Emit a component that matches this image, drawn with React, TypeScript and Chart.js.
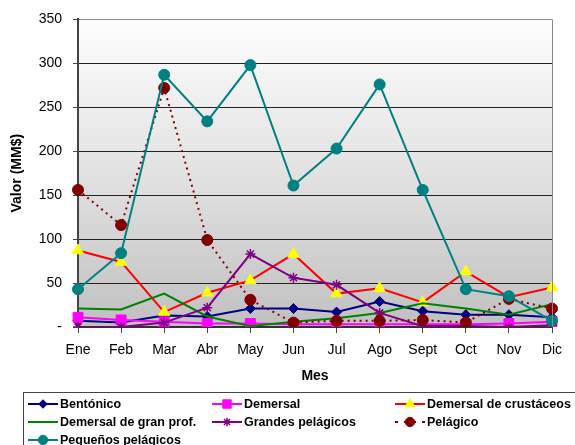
import React, { useEffect, useRef } from 'react';
import { Chart, registerables } from 'chart.js';
import { drawPoint } from 'chart.js/helpers';

Chart.register(...registerables);

const months = ['Ene', 'Feb', 'Mar', 'Abr', 'May', 'Jun', 'Jul', 'Ago', 'Sept', 'Oct', 'Nov', 'Dic'];
const yTicks = [0, 50, 100, 150, 200, 250, 300, 350];
const bentonico = [7, 5, 13, 12, 21, 21, 17, 29, 18, 14, 14, 11];
const demersal = [11, 8, 6, 4, 4, 3, 3, 3, 3, 3, 4, 6];
const crustaceos = [87, 74, 17, 39, 53, 83, 38, 44, 28, 63, 34, 45];
const granProf = [21, 20, 38, 12, 1, 6, 10, 16, 27, 21, 14, 26];
const grandesPelagicos = [0, 0, 5, 22, 83, 56, 48, 16, 1, 1, 0, 2];
const pelagico = [156, 116, 272, 99, 31, 5, 7, 7, 8, 5, 32, 21];
const pequenosPelagicos = [43, 84, 287, 234, 298, 161, 203, 276, 156, 43, 35, 7];

const FONT = 'Arial, "Liberation Sans", sans-serif';

const legendPos = [
  [28, 404], [212, 404], [395, 404],
  [28, 422], [212, 422], [395, 422],
  [28, 440],
];

const bgPlugin = {
  id: 'bgPlugin',
  beforeDraw(chart: any) {
    const { ctx, chartArea: a } = chart;
    ctx.save();
    ctx.fillStyle = '#ffffff';
    ctx.fillRect(0, 0, chart.width, chart.height);
    const g = ctx.createLinearGradient(0, a.top, 0, a.bottom);
    g.addColorStop(0, '#fdfdfd');
    g.addColorStop(0.5, '#e2e2e2');
    g.addColorStop(1, '#c0c0c0');
    ctx.fillStyle = g;
    ctx.fillRect(a.left, a.top, a.right - a.left, a.bottom - a.top);
    ctx.restore();
  },
  afterDraw(chart: any) {
    const { ctx, chartArea: a } = chart;
    ctx.save();
    ctx.strokeStyle = '#888888';
    ctx.lineWidth = 1;
    ctx.beginPath();
    ctx.moveTo(a.right + 0.5, a.top);
    ctx.lineTo(a.right + 0.5, a.bottom);
    ctx.stroke();

    // legend box
    ctx.strokeStyle = '#444444';
    ctx.lineWidth = 1;
    ctx.strokeRect(23.5, 392.5, 600, 100);

    chart.data.datasets.forEach((ds: any, i: number) => {
      const [x, y] = legendPos[i];
      ctx.save();
      ctx.strokeStyle = ds.borderColor;
      ctx.lineWidth = ds.borderWidth;
      ctx.setLineDash(ds.borderDash ? [3, 6] : []);
      ctx.beginPath();
      ctx.moveTo(x, y);
      ctx.lineTo(x + 30, y);
      ctx.stroke();
      ctx.restore();
      if (ds.pointRadius > 0) {
        ctx.save();
        ctx.fillStyle = ds.pointBackgroundColor;
        ctx.strokeStyle = ds.pointBorderColor;
        ctx.lineWidth = ds.pointBorderWidth;
        drawPoint(ctx, { pointStyle: ds.pointStyle, radius: ds.pointRadius * 0.85, rotation: 0, borderWidth: ds.pointBorderWidth }, x + 15, y);
        ctx.restore();
      }
      ctx.fillStyle = '#000000';
      ctx.font = `bold 12.5px ${FONT}`;
      ctx.textBaseline = 'middle';
      ctx.textAlign = 'left';
      ctx.fillText(ds.label, x + 32, y + 1);
    });
    ctx.restore();
  },
};

export default function App() {
  const ref = useRef<HTMLCanvasElement>(null);
  useEffect(() => {
    document.body.style.margin = '0';
    const mk = (label: string, data: number[], color: string, style: any, radius: number, fill: string, extra: any = {}) => ({
      label,
      data,
      borderColor: color,
      backgroundColor: fill,
      borderWidth: 2,
      pointStyle: style,
      pointRadius: radius,
      pointBackgroundColor: fill,
      pointBorderColor: style === 'star' ? color : fill,
      pointBorderWidth: style === 'star' ? 1.5 : 1,
      tension: 0,
      ...extra,
    });
    const datasets = [
      mk('Bentónico', bentonico, '#000080', 'rectRot', 5, '#000080'),
      mk('Demersal', demersal, '#ff00ff', 'rect', 7, '#ff00ff'),
      mk('Demersal de crustáceos', crustaceos, '#ff0000', 'triangle', 6.5, '#ffff00'),
      mk('Demersal de gran prof.', granProf, '#008000', 'circle', 0, '#008000'),
      mk('Grandes pelágicos', grandesPelagicos, '#800080', 'star', 5, '#800080'),
      mk('Pelágico', pelagico, '#800000', 'circle', 5.5, '#800000', { borderDash: [2, 4] }),
      mk('Pequeños pelágicos', pequenosPelagicos, '#008080', 'circle', 5.5, '#008080'),
    ].map((d, i, arr) => ({ ...d, order: arr.length - i }));

    const chart = new Chart(ref.current!, {
      type: 'line',
      data: { labels: months, datasets },
      options: {
        responsive: false,
        animation: false,
        devicePixelRatio: 1,
        layout: { padding: { top: 15, right: 23, bottom: 60, left: 0 } },
        plugins: { legend: { display: false }, tooltip: { enabled: false } },
        scales: {
          x: {
            offset: false,
            afterFit: (s: any) => { s.height = 58; },
            grid: { display: true, drawOnChartArea: false, drawTicks: true, tickLength: 6, color: '#444444', lineWidth: 1 },
            border: { display: true, color: '#333333', width: 2 },
            ticks: { font: { family: FONT, size: 14 }, color: '#000000', padding: 9, maxRotation: 0, autoSkip: false },
            title: { display: true, text: 'Mes', font: { family: FONT, size: 14, weight: 'bold' }, color: '#000000', padding: { top: 0, bottom: 0 } },
          },
          y: {
            min: 0,
            max: 350,
            afterFit: (s: any) => { s.width = 78; },
            afterBuildTicks: (s: any) => { s.ticks = yTicks.map((v) => ({ value: v })); },
            grid: {
              color: (c: any) => (c.tick && c.tick.value === 350 ? '#888888' : '#222222'),
              tickColor: '#444444',
              lineWidth: 1,
              drawTicks: true,
              tickLength: 5,
            },
            border: { display: true, color: '#444444', width: 2 },
            ticks: {
              font: { family: FONT, size: 14 },
              color: '#000000',
              padding: 11,
              callback: (v: any) => (v === 0 ? '-' : String(v)),
            },
            title: { display: true, text: 'Valor (MM$)', font: { family: FONT, size: 14, weight: 'bold' }, color: '#000000', padding: { top: 9, bottom: 0 } },
          },
        },
      },
      plugins: [bgPlugin],
    });
    return () => chart.destroy();
  }, []);
  return <canvas ref={ref} width={575} height={445} style={{ display: 'block' }} />;
}
